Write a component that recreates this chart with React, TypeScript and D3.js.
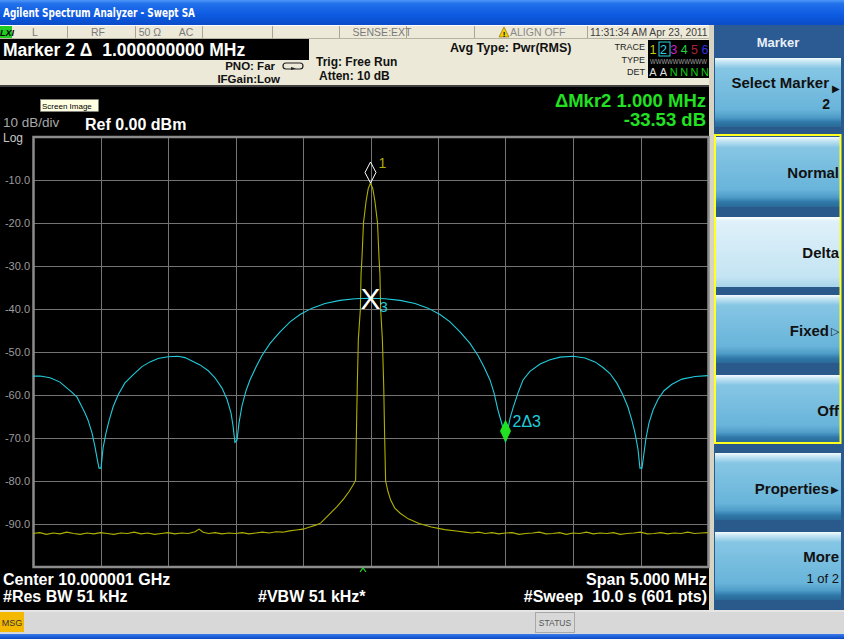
import React from "react";
import * as d3 from "d3";

const W = 844;
const H = 639;
const F = "'Liberation Sans', Arial, Helvetica, sans-serif";

// Display settings: Ref 0 dBm, 10 dB/div, 10 divisions; span 5 MHz around center
const refLevel = 0;
const dbPerDiv = 10;
const numDivs = 10;
const spanMHz = 5;
const yTickLevels = [-10, -20, -30, -40, -50, -60, -70, -80, -90];
const yTickLabels = ["-10.0", "-20.0", "-30.0", "-40.0", "-50.0", "-60.0", "-70.0", "-80.0", "-90.0"];
const freqGridMHz = [-2.5, -2, -1.5, -1, -0.5, 0, 0.5, 1, 1.5, 2, 2.5];

// Trace 1 (CW carrier): offset from center in MHz, level in dBm
const trace1Freq = [
  -2.5, -2.45, -2.4, -2.35, -2.3, -2.25, -2.2, -2.15, -2.1, -2.05,
  -2.0, -1.95, -1.9, -1.85, -1.8, -1.75, -1.7, -1.65, -1.6, -1.55,
  -1.5, -1.45, -1.4, -1.35, -1.3, -1.27, -1.24, -1.2, -1.15, -1.1,
  -1.05, -1.0, -0.95, -0.9, -0.85, -0.8, -0.75, -0.7, -0.65, -0.6,
  -0.55, -0.5, -0.45, -0.4, -0.37, -0.3, -0.25, -0.2, -0.16, -0.13,
  -0.11, -0.105, -0.098, -0.09, -0.075, -0.07, -0.063, -0.052, -0.033, -0.017,
  0, 0.017, 0.033, 0.052, 0.063, 0.07, 0.075, 0.088, 0.098, 0.105,
  0.112, 0.13, 0.15, 0.18, 0.22, 0.28, 0.36, 0.45, 0.55, 0.65,
  0.7, 0.75, 0.8, 0.85, 0.9, 0.95, 1.0, 1.05, 1.1, 1.15,
  1.2, 1.25, 1.3, 1.35, 1.4, 1.45, 1.5, 1.55, 1.6, 1.65,
  1.7, 1.75, 1.8, 1.85, 1.9, 1.95, 2.0, 2.05, 2.1, 2.15,
  2.2, 2.25, 2.3, 2.35, 2.4, 2.45, 2.5,
];
const trace1Level = [
  -92.2, -92.0, -92.4, -92.1, -92.3, -91.9, -92.2, -92.4, -92.1, -92.3,
  -92.0, -92.2, -92.4, -92.1, -92.2, -91.9, -92.3, -92.1, -92.4, -92.2,
  -92.0, -92.3, -92.1, -92.2, -91.8, -91.2, -91.9, -92.2, -92.0, -92.3,
  -92.1, -92.2, -92.0, -92.3, -92.1, -91.9, -92.1, -91.8, -91.9, -91.6,
  -91.4, -91.2, -90.7, -90.2, -89.8, -87.6, -86.0, -84.2, -82.5, -81.0,
  -79.8, -70.0, -58.0, -47.0, -40.0, -32.0, -28.0, -20.0, -15.0, -12.0,
  -10.7, -12.0, -15.0, -20.0, -28.0, -32.0, -40.0, -47.0, -58.0, -70.0,
  -80.0, -82.5, -84.5, -86.3, -87.5, -88.8, -89.9, -90.7, -91.3, -91.7,
  -91.9, -92.1, -91.9, -92.2, -92.0, -92.3, -92.1, -92.0, -92.4, -92.2,
  -92.1, -91.9, -92.3, -92.2, -92.0, -92.4, -92.1, -92.2, -91.9, -92.3,
  -92.1, -92.2, -92.0, -92.4, -92.2, -92.1, -91.9, -92.3, -92.2, -92.0,
  -92.3, -92.1, -92.2, -91.9, -92.2, -92.1, -92.0,
];

// Trace 2 (modulated signal, sinc-shaped spectrum)
const trace2Freq = [
  -2.5, -2.448, -2.374, -2.3, -2.248, -2.211, -2.174, -2.137, -2.115, -2.093,
  -2.063, -2.041, -2.026, -2.011, -1.996, -1.981, -1.959, -1.937, -1.907, -1.87,
  -1.819, -1.759, -1.693, -1.633, -1.574, -1.5, -1.426, -1.374, -1.322, -1.263,
  -1.204, -1.152, -1.1, -1.063, -1.033, -1.019, -1.004, -0.989, -0.974, -0.952,
  -0.922, -0.893, -0.848, -0.804, -0.744, -0.67, -0.596, -0.522, -0.433, -0.337,
  -0.226, -0.115, 0.0, 0.107, 0.219, 0.33, 0.426, 0.515, 0.589, 0.663,
  0.737, 0.796, 0.841, 0.885, 0.915, 0.944, 0.974, 0.989, 1.0, 1.033,
  1.056, 1.093, 1.13, 1.181, 1.256, 1.33, 1.404, 1.5, 1.589, 1.663,
  1.722, 1.774, 1.826, 1.87, 1.907, 1.937, 1.959, 1.981, 1.996, 2.011,
  2.026, 2.041, 2.063, 2.093, 2.13, 2.174, 2.233, 2.307, 2.404, 2.5,
];
const trace2Level = [
  -55.6, -55.6, -56.0, -57.0, -58.4, -59.4, -60.5, -62.8, -64.2, -65.8,
  -68.8, -72.0, -74.6, -77.0, -77.0, -72.3, -68.8, -66.0, -62.8, -60.0,
  -57.2, -55.3, -53.4, -52.3, -51.5, -51.1, -51.0, -51.3, -52.1, -53.0,
  -54.3, -56.0, -58.4, -61.0, -64.2, -67.0, -71.0, -70.5, -66.5, -62.5,
  -59.0, -56.5, -53.5, -50.8, -48.0, -45.3, -43.0, -41.3, -39.8, -38.7,
  -38.0, -37.6, -37.5, -37.6, -38.0, -38.7, -39.8, -41.3, -43.0, -45.3,
  -48.0, -50.8, -53.5, -56.5, -59.5, -63.5, -66.8, -69.0, -71.03, -65.5,
  -63.0, -59.5, -56.5, -54.5, -52.8, -51.8, -51.2, -51.0, -51.4, -52.3,
  -53.6, -55.0, -57.3, -60.0, -62.8, -66.0, -68.8, -72.5, -77.0, -77.0,
  -73.5, -70.0, -66.5, -63.5, -61.0, -59.0, -57.5, -56.3, -55.7, -55.5,
];

// Markers
const marker1 = { freq: 0, level: -10.7 };
const marker3 = { freq: 0, level: -37.5 };
const marker2Delta = { freq: 1.0, level: -33.53 };

// Softkey menu
const softKeys = [
  { label: "Select Marker", sub: "2", arrow: "▸", y: 58, h: 69, selected: false },
  { label: "Normal", y: 137, h: 70, selected: false },
  { label: "Delta", y: 217, h: 70, selected: true },
  { label: "Fixed", arrow: "▷", y: 295, h: 68, selected: false },
  { label: "Off", y: 375, h: 67, selected: false },
  { label: "Properties", arrow: "▸", y: 453, h: 67, selected: false },
  { label: "More", sub: "1 of 2", y: 532, h: 68, selected: false },
];

const traceDigits = ["1", "2", "3", "4", "5", "6"];
const traceColors = ["#c8c800", "#30d0e0", "#d020c8", "#20d040", "#b0203c", "#3030e0"];
const detLetters = ["A", "A", "N", "N", "N", "N"];

const statusCells = [
  { x: 0, w: 68, text: "L", tx: 35 },
  { x: 68, w: 68, text: "RF", tx: 98 },
  { x: 136, w: 67, text: "50 Ω      AC", tx: 166 },
  { x: 203, w: 70, text: "", tx: 0 },
  { x: 273, w: 67, text: "", tx: 0 },
  { x: 340, w: 67, text: "SENSE:EXT", tx: 382 },
];

export default function App() {
  const plotL = 33, plotR = 708, plotT = 137, plotB = 567;
  const x = d3.scaleLinear().domain([-spanMHz / 2, spanMHz / 2]).range([plotL, plotR]);
  const y = d3.scaleLinear().domain([refLevel, refLevel - dbPerDiv * numDivs]).range([plotT, plotB]);

  const line = d3
    .line<[number, number]>()
    .x((d) => x(d[0]))
    .y((d) => y(d[1]));
  const t1 = line(trace1Freq.map((f, i) => [f, trace1Level[i]] as [number, number])) || "";
  const t2 = line(trace2Freq.map((f, i) => [f, trace2Level[i]] as [number, number])) || "";

  const m1x = x(marker1.freq), m1y = y(marker1.level);
  const m3x = x(marker3.freq), m3y = y(marker3.level);
  const m2x = x(marker2Delta.freq), m2y = y(marker3.level + marker2Delta.level);

  return (
    <div style={{ position: "absolute", left: 0, top: 0, width: W, height: H }}>
      <svg width={W} height={H} style={{ display: "block", fontFamily: F }}>
        <defs>
          <linearGradient id="titleGrad" x1="0" y1="0" x2="0" y2="1">
            <stop offset="0" stopColor="#4d97f8" />
            <stop offset="0.15" stopColor="#2270ea" />
            <stop offset="0.6" stopColor="#0d5be2" />
            <stop offset="1" stopColor="#0a4cc8" />
          </linearGradient>
          <linearGradient id="keyGrad" x1="0" y1="0" x2="0" y2="1">
            <stop offset="0" stopColor="#f4fbfe" />
            <stop offset="0.05" stopColor="#c6e6f4" />
            <stop offset="0.15" stopColor="#86c6e4" />
            <stop offset="0.75" stopColor="#68b4da" />
            <stop offset="0.86" stopColor="#4f9cc8" />
            <stop offset="0.93" stopColor="#2f78a8" />
            <stop offset="1" stopColor="#2a6a98" />
          </linearGradient>
          <linearGradient id="keySel" x1="0" y1="0" x2="0" y2="1">
            <stop offset="0" stopColor="#ffffff" />
            <stop offset="0.06" stopColor="#dff1fa" />
            <stop offset="0.85" stopColor="#c4e4f3" />
            <stop offset="1" stopColor="#a8d4ea" />
          </linearGradient>
          <linearGradient id="bottomGrad" x1="0" y1="0" x2="0" y2="1">
            <stop offset="0" stopColor="#3b7cf0" />
            <stop offset="1" stopColor="#0a48c0" />
          </linearGradient>
          <clipPath id="plotClip">
            <rect x={plotL} y={plotT - 2} width={plotR - plotL} height={plotB - plotT + 2} />
          </clipPath>
        </defs>

        {/* window frame */}
        <rect x={0} y={0} width={W} height={H} fill="#000" />
        <rect x={0} y={0} width={W} height={25} fill="url(#titleGrad)" />
        <text x={3} y={17} fill="#fff" fontSize={11.5} fontWeight="bold" fontFamily="'DejaVu Sans', sans-serif" textLength={192} lengthAdjust="spacingAndGlyphs">
          Agilent Spectrum Analyzer - Swept SA
        </text>

        {/* status row */}
        <rect x={0} y={25} width={713} height={14} fill="#ece9d8" />
        <line x1={0} y1={25.5} x2={713} y2={25.5} stroke="#ffffff" />
        <line x1={0} y1={38.5} x2={713} y2={38.5} stroke="#b8b4a4" />
        {statusCells.map((c, i) => (
          <g key={i}>
            <line x1={c.x + c.w - 0.5} y1={26} x2={c.x + c.w - 0.5} y2={38} stroke="#a8a498" />
            {c.text && (
              <text x={c.tx} y={36} fill="#7a7a7a" fontSize={10.5} textAnchor="middle" style={{ whiteSpace: "pre" }}>
                {c.text}
              </text>
            )}
          </g>
        ))}
        <rect x={0} y={26} width={12} height={12} fill="#22cc22" />
        <text x={0} y={36} fill="#000" fontSize={9} fontWeight="bold" fontStyle="italic">
          LXI
        </text>
        <line x1={474.5} y1={26} x2={474.5} y2={38} stroke="#a8a498" />
        <line x1={587.5} y1={26} x2={587.5} y2={38} stroke="#a8a498" />
        <path d="M504,27 L509,37 L499,37 Z" fill="#f0d000" stroke="#806000" strokeWidth={0.6} />
        <text x={504} y={36.5} fill="#000" fontSize={8} fontWeight="bold" textAnchor="middle">
          !
        </text>
        <text x={510} y={36} fill="#8a8a8a" fontSize={10.5}>
          ALIGN OFF
        </text>
        <text x={590} y={36} fill="#404040" fontSize={10.3}>
          11:31:34 AM Apr 23, 2011
        </text>

        {/* settings panel */}
        <rect x={0} y={39} width={713} height={47} fill="#ece9d8" />
        <rect x={0} y={39} width={309} height={21} fill="#000" />
        <text x={3} y={56} fill="#fff" fontSize={17.5} fontWeight="bold" style={{ whiteSpace: "pre" }}>
          {"Marker 2 Δ  1.000000000 MHz"}
        </text>
        <text x={275} y={70} fill="#111" fontSize={11.5} fontWeight="bold" textAnchor="end">
          PNO: Far
        </text>
        <text x={280} y={83} fill="#111" fontSize={11.5} fontWeight="bold" textAnchor="end">
          IFGain:Low
        </text>
        <path d="M286,63 h14 a3,3 0 0 1 0,6 h-14 a3,3 0 0 1 0,-6 Z" fill="none" stroke="#222" strokeWidth={1.2} />
        <path d="M291,67 l5,1.5 l-5,1.5 Z" fill="#222" />
        <text x={316} y={66} fill="#111" fontSize={12} fontWeight="bold">
          Trig: Free Run
        </text>
        <text x={319} y={80} fill="#111" fontSize={12} fontWeight="bold">
          Atten: 10 dB
        </text>
        <text x={450} y={52} fill="#111" fontSize={12.5} fontWeight="bold">
          Avg Type: Pwr(RMS)
        </text>
        <text x={645} y={50} fill="#222" fontSize={9} textAnchor="end">
          TRACE
        </text>
        <text x={645} y={63} fill="#222" fontSize={9} textAnchor="end">
          TYPE
        </text>
        <text x={645} y={75} fill="#222" fontSize={9} textAnchor="end">
          DET
        </text>
        <rect x={648} y={40} width={62} height={38} fill="#000" />
        {traceDigits.map((d, i) => (
          <text key={"d" + i} x={653 + i * 10.4} y={54} fill={traceColors[i]} fontSize={12.5} textAnchor="middle">
            {d}
          </text>
        ))}
        <rect x={659} y={42} width={11} height={14} fill="none" stroke="#30d0e0" strokeWidth={1} />
        <text x={650} y={64} fill="#a0a0a0" fontSize={7.5} textLength={57} lengthAdjust="spacingAndGlyphs">
          WWWWWWWWWW
        </text>
        {detLetters.map((d, i) => (
          <text key={"a" + i} x={653 + i * 10.4} y={76} fill={d === "A" ? "#e0e0e0" : "#10d010"} fontSize={11} textAnchor="middle">
            {d}
          </text>
        ))}
        <rect x={0} y={85} width={713} height={2} fill="#404040" />

        {/* right softkey panel */}
        <rect x={709} y={25} width={5} height={586} fill="#d8d4c4" />
        <rect x={714} y={25} width={130} height={586} fill="#2a5a8c" />
        <rect x={714} y={25} width={130} height={32} fill="#2c5b93" />
        <text x={778} y={47} fill="#e8f0f8" fontSize={13} fontWeight="bold" textAnchor="middle">
          Marker
        </text>
        {softKeys.map((k, i) => (
          <g key={"k" + i}>
            <rect x={715} y={k.y} width={126} height={k.h} fill={k.selected ? "url(#keySel)" : "url(#keyGrad)"} />
            {k.label === "Select Marker" ? (
              <>
                <text x={829} y={k.y + 30} fill="#111" fontSize={15} fontWeight="bold" textAnchor="end">
                  {k.label}
                </text>
                <text x={836} y={k.y + 34} fill="#111" fontSize={10} textAnchor="middle">
                  ▶
                </text>
                <text x={830} y={k.y + 51} fill="#111" fontSize={14} fontWeight="bold" textAnchor="end">
                  {k.sub}
                </text>
              </>
            ) : k.label === "More" ? (
              <>
                <text x={839} y={k.y + 30} fill="#111" fontSize={15} fontWeight="bold" textAnchor="end">
                  {k.label}
                </text>
                <text x={839} y={k.y + 51} fill="#111" fontSize={13} textAnchor="end">
                  {k.sub}
                </text>
              </>
            ) : (
              <>
                <text x={k.arrow ? 829 : 839} y={k.y + 41} fill="#111" fontSize={15} fontWeight="bold" textAnchor="end">
                  {k.label}
                </text>
                {k.arrow && (
                  <text x={835} y={k.y + 40} fill="#111" fontSize={k.arrow === "▷" ? 11 : 10} textAnchor="middle">
                    {k.arrow === "▷" ? "▷" : "▶"}
                  </text>
                )}
              </>
            )}
          </g>
        ))}
        <rect x={715} y={135} width={125.5} height={308} fill="none" stroke="#ffff20" strokeWidth={2} />

        {/* annotation text in the display */}
        <rect x={40.5} y={99.5} width={58} height={12} fill="#ffffe1" stroke="#888" strokeWidth={0.6} />
        <text x={42} y={109} fill="#000" fontSize={8}>
          Screen Image
        </text>
        <text x={3} y={127} fill="#a8a8a8" fontSize={13.5}>
          10 dB/div
        </text>
        <text x={3} y={142} fill="#c8c8c8" fontSize={12}>
          Log
        </text>
        <text x={85} y={130} fill="#fff" fontSize={16} fontWeight="bold">
          Ref 0.00 dBm
        </text>
        <text x={706} y={107} fill="#22e022" fontSize={18.5} fontWeight="bold" textAnchor="end">
          ΔMkr2 1.000 MHz
        </text>
        <text x={706} y={126} fill="#22e022" fontSize={18.5} fontWeight="bold" textAnchor="end">
          -33.53 dB
        </text>

        {/* graticule */}
        {yTickLevels.map((v, i) => (
          <g key={"y" + i}>
            <line x1={plotL} x2={plotR} y1={Math.round(y(v)) + 0.5} y2={Math.round(y(v)) + 0.5} stroke="#747474" strokeWidth={1} />
            <text x={30} y={y(v) + 4} fill="#9c9c9c" fontSize={11} textAnchor="end">
              {yTickLabels[i]}
            </text>
          </g>
        ))}
        {freqGridMHz.slice(1, -1).map((f, i) => (
          <line key={"x" + i} x1={Math.round(x(f)) + 0.5} x2={Math.round(x(f)) + 0.5} y1={plotT} y2={plotB} stroke="#747474" strokeWidth={1} />
        ))}
        <rect x={plotL + 0.5} y={plotT} width={plotR - plotL} height={plotB - plotT} fill="none" stroke="#8c8c8c" strokeWidth={2.5} />

        {/* traces */}
        <g clipPath="url(#plotClip)">
          <path d={t1} fill="none" stroke="#b0b000" strokeWidth={1.1} />
          <path d={t2} fill="none" stroke="#20ccdc" strokeWidth={1.1} />
        </g>

        {/* marker 1: diamond above the carrier peak */}
        <path d={`M${m1x},${m1y} L${m1x - 5.5},${m1y - 10.5} L${m1x},${m1y - 21} L${m1x + 5.5},${m1y - 10.5} Z`} fill="none" stroke="#ffffff" strokeWidth={1} />
        <text x={m1x + 8} y={m1y - 15} fill="#b0b000" fontSize={14}>
          1
        </text>
        {/* marker 3: fixed reference */}
        <text x={m3x} y={m3y + 11} fill="#ffffff" fontSize={30} textAnchor="middle">
          X
        </text>
        <text x={m3x + 9} y={m3y + 14} fill="#20ccdc" fontSize={15}>
          3
        </text>
        {/* marker 2: delta marker */}
        <path d={`M${m2x},${m2y} L${m2x - 5.5},${m2y - 11.5} L${m2x},${m2y - 23} L${m2x + 5.5},${m2y - 11.5} Z`} fill="#22e022" />
        <text x={m2x + 7} y={m2y - 15} fill="#20ccdc" fontSize={16}>
          2Δ3
        </text>
        <path d="M360,572 L363,568 L366,572" fill="none" stroke="#22dd22" strokeWidth={1.2} />

        {/* bottom annotations */}
        <text x={3} y={585} fill="#fff" fontSize={16} fontWeight="bold">
          Center 10.000001 GHz
        </text>
        <text x={3} y={602} fill="#fff" fontSize={16} fontWeight="bold">
          #Res BW 51 kHz
        </text>
        <text x={258} y={602} fill="#fff" fontSize={16} fontWeight="bold">
          #VBW 51 kHz*
        </text>
        <text x={707} y={585} fill="#fff" fontSize={16} fontWeight="bold" textAnchor="end">
          Span 5.000 MHz
        </text>
        <text x={707} y={602} fill="#fff" fontSize={16} fontWeight="bold" textAnchor="end" style={{ whiteSpace: "pre" }}>
          {"#Sweep  10.0 s (601 pts)"}
        </text>

        {/* message / status bar */}
        <rect x={0} y={610} width={W} height={24} fill="#d8d8d8" />
        <line x1={0} y1={611} x2={W} y2={611} stroke="#f4f4f4" />
        <rect x={0} y={612} width={24} height={20} fill="#f5b800" />
        <text x={12} y={626} fill="#333" fontSize={9} textAnchor="middle">
          MSG
        </text>
        <rect x={535.5} y={612.5} width={39} height={20} fill="none" stroke="#a8a8a8" />
        <text x={555} y={626} fill="#555" fontSize={8.5} textAnchor="middle">
          STATUS
        </text>
        <rect x={0} y={634} width={W} height={5} fill="url(#bottomGrad)" />
      </svg>
    </div>
  );
}
